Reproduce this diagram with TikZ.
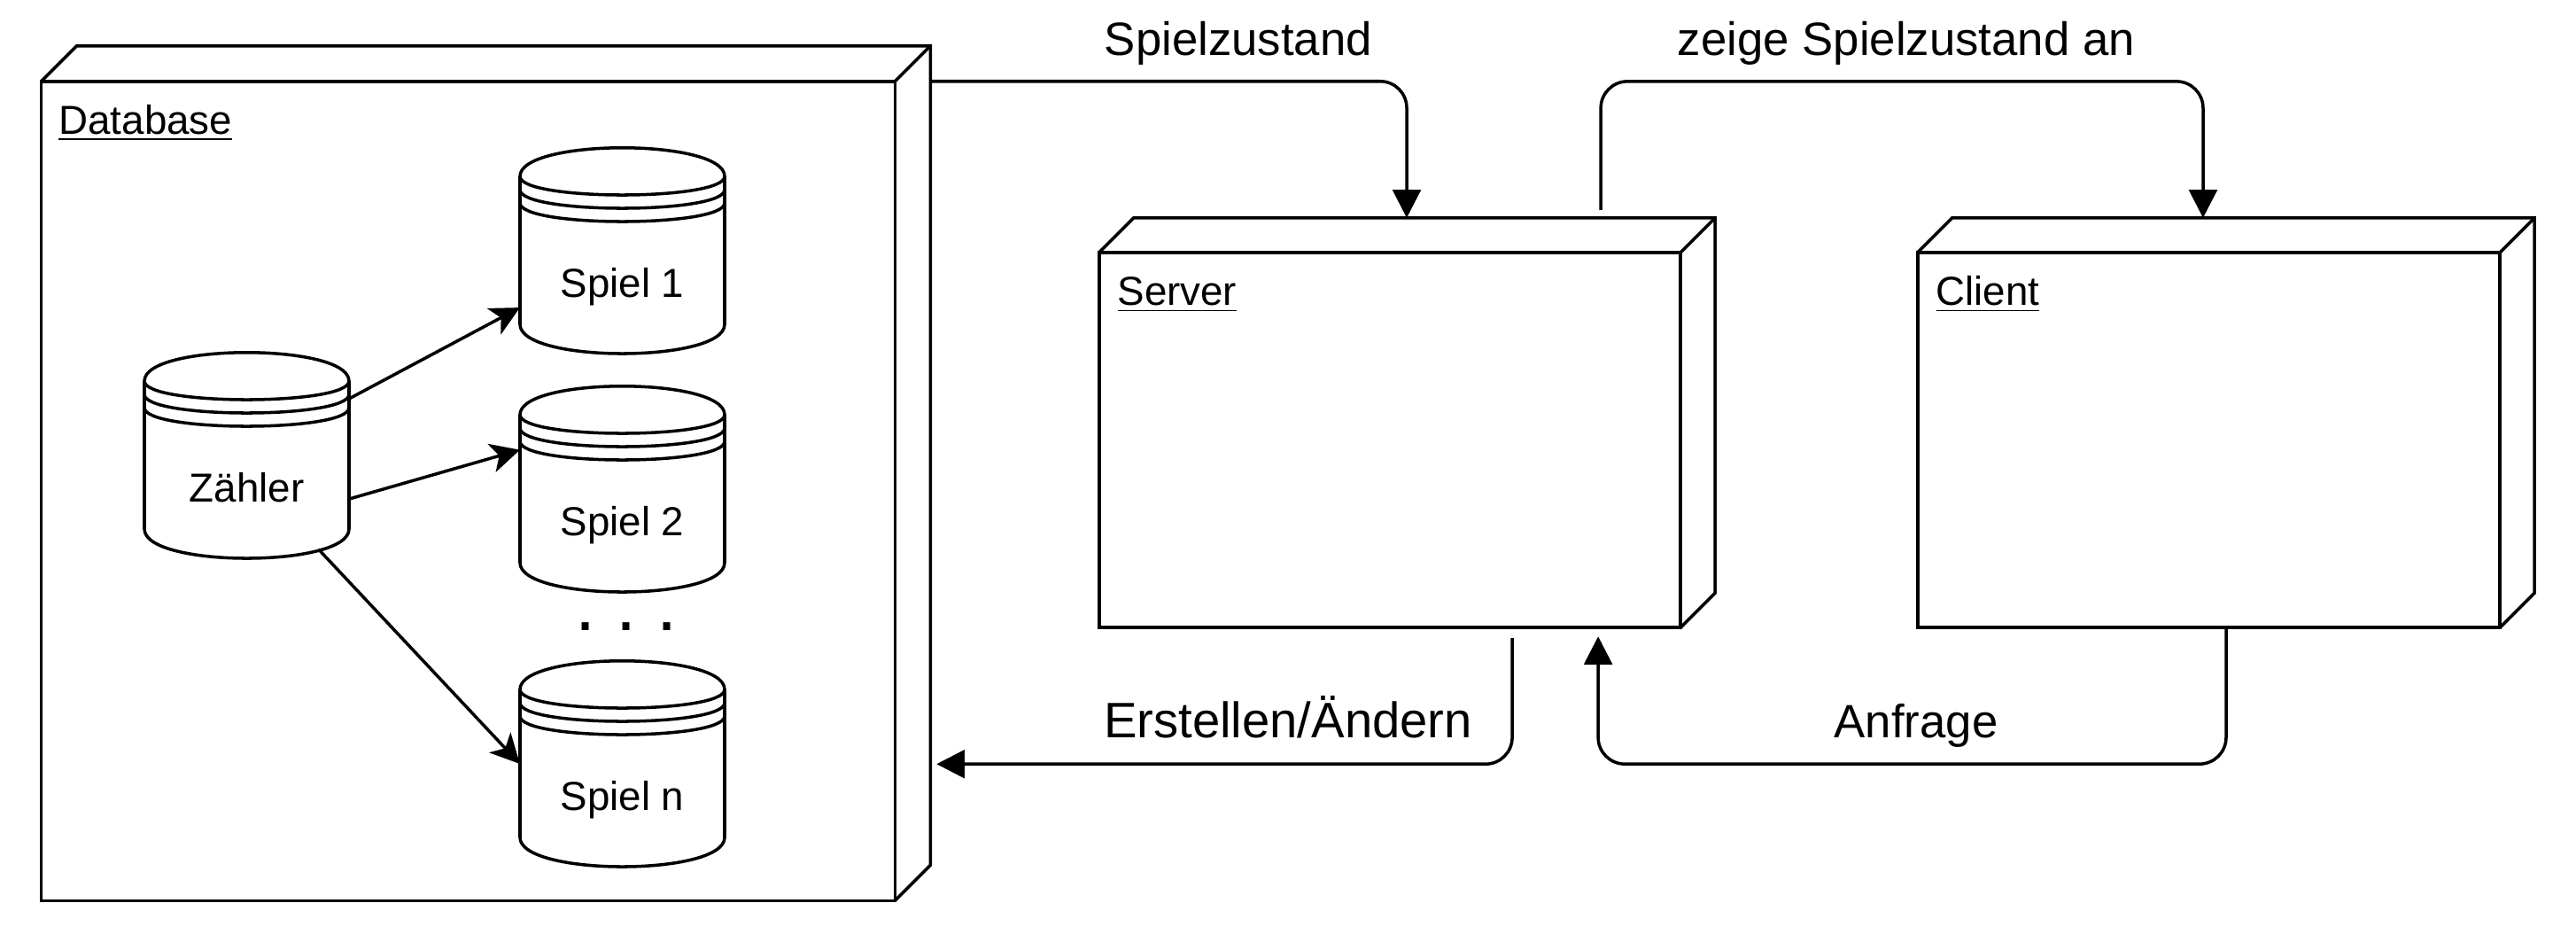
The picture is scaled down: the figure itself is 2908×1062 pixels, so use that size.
\documentclass[tikz,border=0pt]{standalone}
\usepackage{fontspec}
\setmainfont{Liberation Sans}
\usepackage{tikz}
\usetikzlibrary{arrows.meta}

\newcommand{\datastore}[4]{%
  \begin{scope}[shift={(#2,#3)}]
    \draw[fill=white] (0,32) .. controls (0,-11) and (231,-11) .. (231,32)
      -- (231,199) .. controls (231,243) and (0,243) .. (0,199) -- cycle;
    \foreach \off in {0,15,30}{
      \draw (0,32+\off) .. controls (0,60+\off) and (231,60+\off) .. (231,32+\off);
    }
    \node[dsbox] (#1) at (115.5,116) {};
    \node[dslabel] (#1txt) at (115.5,168) {#4};
  \end{scope}}

\begin{document}
\begin{tikzpicture}[x=0.01cm,y=-0.01cm,line width=1pt,
    device/.style={draw,fill=white,inner sep=0pt,outer sep=0pt},
    dsbox/.style={inner sep=0pt,outer sep=0pt,minimum width=2.31cm,minimum height=2.32cm},
    devlabel/.style={anchor=base west,inner sep=0pt,font=\fontsize{13pt}{15pt}\selectfont},
    dslabel/.style={anchor=base,font=\fontsize{13pt}{15pt}\selectfont},
    msg/.style={anchor=base,font=\fontsize{15pt}{18pt}\selectfont},
    flow/.style={-{Triangle[length=9pt,width=9pt]},rounded corners=0.3cm},
    link/.style={-{Stealth[length=9.4pt,width=9.4pt,inset=2.5pt]}}]
  \useasboundingbox (0,0) rectangle (2908,1062);

  % devices
  \node[device,minimum width=9.63cm,minimum height=9.24cm] (db) at (528.5,554) {};
  \node[device,minimum width=6.56cm,minimum height=4.23cm] (srv) at (1569,496.5) {};
  \node[device,minimum width=6.57cm,minimum height=4.23cm] (cli) at (2493.5,496.5) {};
  \foreach \n/\d in {db/40,srv/39,cli/39}{
    \draw (\n.north west) -- ++(\d,-\d) -| ([shift={(\d,-\d)}]\n.south east) -- (\n.south east);
    \draw (\n.north east) -- ++(\d,-\d);
  }
  \node[devlabel] (dbname) at ([shift={(18,60)}]db.north west) {\underline{Database}};
  \node[devlabel] (srvname) at ([shift={(19,60)}]srv.north west) {\underline{Server}};
  \node[devlabel] (cliname) at ([shift={(19,60)}]cli.north west) {\underline{Client}};

  % data stores
  \datastore{z}{163}{398}{Zähler}
  \datastore{s1}{587}{167}{Spiel 1}
  \datastore{s2}{587}{436}{Spiel 2}
  \datastore{sn}{587}{746}{Spiel n}
  \node[anchor=base,font=\fontsize{23.6pt}{28pt}\selectfont] (dots) at (707,711) {\frenchspacing. . .};

  \draw[link] (z.29) -- (s1.209);
  \draw[link] (z.-23) -- (s2.159);
  \draw[link,shorten <=-4pt] (z.-52) -- (sn.west);

  % messages
  \draw[flow] ([xshift=0.4cm]db.north east) -| ([xshift=0.19cm,yshift=0.39cm]srv.north);
  \node[msg] (m1) at (1398,62) {Spielzustand};
  \draw[flow] ([xshift=2.38cm,yshift=0.48cm]srv.north) -- ++(0,-145)
    -| ([xshift=-0.065cm,yshift=0.39cm]cli.north);
  \node[msg] (m2) at (2152,62) {zeige Spielzustand an};
  \draw[flow] ([xshift=1.38cm,yshift=-0.12cm]srv.south) |- ([xshift=0.47cm,yshift=-3.08cm]db.east);
  \node[msg,font=\fontsize{16pt}{19pt}\selectfont] (m3) at (1454,832) {Erstellen/Ändern};
  \draw[flow] ([xshift=0.195cm]cli.south) -- ++(0,154) -| ([xshift=2.35cm,yshift=-0.1cm]srv.south);
  \node[msg] (m4) at (2163,832) {Anfrage};
\end{tikzpicture}
\end{document}
